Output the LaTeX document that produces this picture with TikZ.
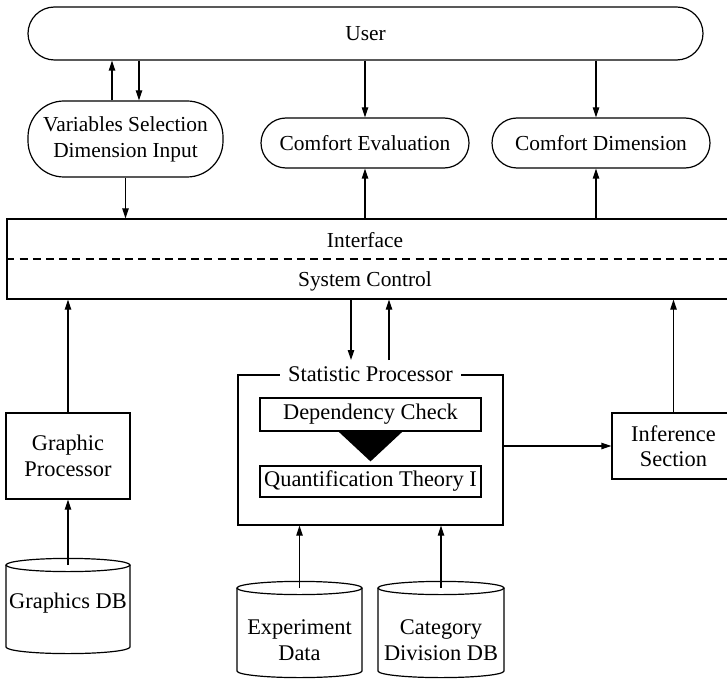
\documentclass[tikz,border=0pt]{standalone}
\usepackage{fontspec}
\setmainfont{Liberation Serif}
\usetikzlibrary{arrows.meta}
\newcommand\topfs{\fontsize{10.7}{13}\selectfont}
\newcommand\botfs{\fontsize{11.2}{13}\selectfont}
% cylinder: name, x1, x2, ytop, ybot, textY, text
\newcommand\dbcyl[7]{%
  \pgfmathsetmacro\cx{(#2+#3)/2}%
  \pgfmathsetmacro\rx{(#3-#2)/4}%
  \draw (\cx,#4) ellipse [x radius=\rx pt, y radius=3.3pt];
  \draw (#2,#4) -- (#2,#5) arc[start angle=180, end angle=360, x radius=\rx pt, y radius=3.3pt] -- (#3,#4);
  \coordinate (#1top) at (\cx,#4);
  \node[dbtext] (#1) at (\cx,#6) {#7};
}
\begin{document}
\begin{tikzpicture}[x=0.5pt,y=-0.5pt,line width=0.6pt,
  box/.style={draw, rectangle, inner sep=0pt, align=center},
  dbtext/.style={inner sep=0pt, align=center, font=\botfs},
  arr/.style={-{Triangle[length=5pt,width=3.2pt]}},
  dashline/.style={dash pattern=on 4pt off 2.6pt, line width=0.6pt}]
\useasboundingbox (0,0) rectangle (727,679);

% top row
\node[box, rounded corners=13.25pt, minimum width=337.5pt, minimum height=26.5pt, font=\topfs] (user) at (365.5,33.5) {User};
\node[box, rounded corners=18pt, minimum width=97.5pt, minimum height=38pt, font=\topfs] (vs) at (125.5,139) {Variables Selection\\Dimension Input};
\node[box, rounded corners=12.5pt, minimum width=104pt, minimum height=25pt, font=\topfs] (ce) at (365,143) {Comfort Evaluation};
\node[box, rounded corners=12.5pt, minimum width=109pt, minimum height=25pt, font=\topfs] (cd) at (601,143) {Comfort Dimension};

% interface
\node[box, minimum width=364pt, minimum height=40pt] (iface) at (371,259) {};
\draw[dashline] (iface.west) -- (iface.east);
\node[inner sep=0pt, font=\topfs] (ifl) at (365,240) {Interface};
\node[inner sep=0pt, font=\topfs] (scl) at (365,281) {System Control};

% lower part
\node[box, minimum width=62pt, minimum height=43pt, font=\botfs] (gp) at (68,456) {Graphic\\Processor};
\node[box, minimum width=132.5pt, minimum height=75pt] (sp) at (370.5,450) {};
\node[fill=white, inner xsep=4pt, inner ysep=1pt, font=\botfs] (spl) at (sp.north) {Statistic Processor};
\node[box, minimum width=110.5pt, minimum height=16.5pt, font=\botfs] (dc) at (370.5,414.5) {Dependency Check};
\node[box, minimum width=110.5pt, minimum height=15.5pt, font=\botfs] (qt) at (370.5,481.5) {Quantification Theory I};
\fill ([xshift=-16pt]dc.south) -- ([xshift=16pt]dc.south) -- ([yshift=2pt]qt.north) -- cycle;
\node[box, minimum width=61.5pt, minimum height=33pt, font=\fontsize{11.2}{12.5}\selectfont] (inf) at (673.5,446) {Inference\\Section};

% databases
\dbcyl{gdb}{6}{130}{565}{647}{603}{Graphics DB}
\dbcyl{ed}{237}{362}{588}{671}{640}{Experiment\\Data}
\dbcyl{cdb}{378}{504}{588}{671}{640}{Category\\Division DB}

% connectors
\coordinate (p1) at ([xshift=-6.75pt]vs.north);
\coordinate (p2) at ([xshift=6.75pt]vs.north);
\draw[arr] (p1) -- (p1 |- user.south);
\draw[arr] (p2 |- user.south) -- (p2);
\draw[arr] (user.south -| ce.north) -- (ce.north);
\coordinate (p5) at ([xshift=-2.5pt]cd.north);
\coordinate (p6) at ([xshift=-2.5pt]cd.south);
\draw[arr] (p5 |- user.south) -- (p5);
\draw[arr] (vs.south) -- (vs.south |- iface.north);
\draw[arr] (iface.north -| ce.south) -- (ce.south);
\draw[arr] (p6 |- iface.north) -- (p6);
\draw[arr] (gp.north) -- (gp.north |- iface.south);
\draw[arr] (gdbtop) -- (gp.south);
\coordinate (p3) at (351,360);
\coordinate (p4) at (389,360);
\draw[arr] (p3 |- iface.south) -- (p3);
\draw[arr] (p4) -- (p4 |- iface.south);
\draw[arr] (sp.east |- inf.west) -- (inf.west);
\draw[arr] (inf.north) -- (inf.north |- iface.south);
\draw[arr] (edtop) -- (edtop |- sp.south);
\draw[arr] (cdbtop) -- (cdbtop |- sp.south);
\end{tikzpicture}
\end{document}
